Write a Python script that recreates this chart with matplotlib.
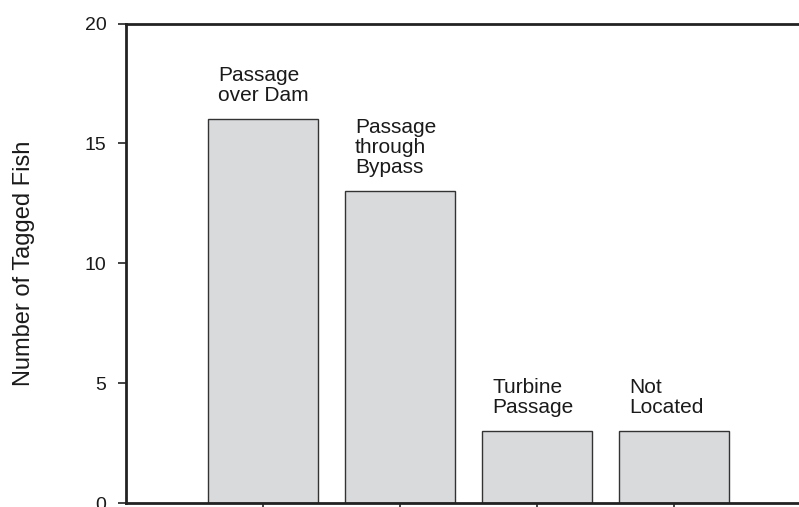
import matplotlib
matplotlib.use("Agg")
import matplotlib.pyplot as plt

plt.rcParams.update({
    "font.family": ["Liberation Sans", "DejaVu Sans"],
    "font.size": 15,
})

categories = ["Passage\nover Dam", "Passage\nthrough\nBypass", "Turbine\nPassage", "Not\nLocated"]
counts = [16, 13, 3, 3]
positions = [1, 2, 3, 4]

fig = plt.figure(figsize=(7.99, 5.07), dpi=100)
ax = fig.add_axes([126 / 799, 4 / 507, 1 - 126 / 799, 479.5 / 507])

bar_w = 0.8
ax.bar(positions, counts, width=bar_w, color="#d9dadc", edgecolor="#333333", linewidth=1.0, zorder=2)

# category names sit just above the top left corner of each bar
for x, n, lab in zip(positions, counts, categories):
    ax.annotate(lab, xy=(x - bar_w / 2, n), xytext=(7, 13), textcoords="offset points",
                ha="left", va="baseline", linespacing=1.08, color="#1a1a1a")

ax.set_xlim(0, 4.91)
ax.set_ylim(0, 20)
ax.set_yticks([0, 5, 10, 15, 20])
ax.set_xticks(positions)
ax.set_xticklabels([])
ax.set_ylabel("Number of Tagged Fish", fontsize=17, labelpad=36, color="#1a1a1a")

for side in ["left", "bottom", "top"]:
    ax.spines[side].set_linewidth(2)
    ax.spines[side].set_color("#222222")
ax.spines["right"].set_visible(False)
ax.tick_params(axis="both", direction="out", length=6, width=1.2, colors="#222222",
               labelsize=14, labelcolor="#1a1a1a")
ax.tick_params(axis="y", pad=8)

fig.savefig("out.png", dpi=100)
